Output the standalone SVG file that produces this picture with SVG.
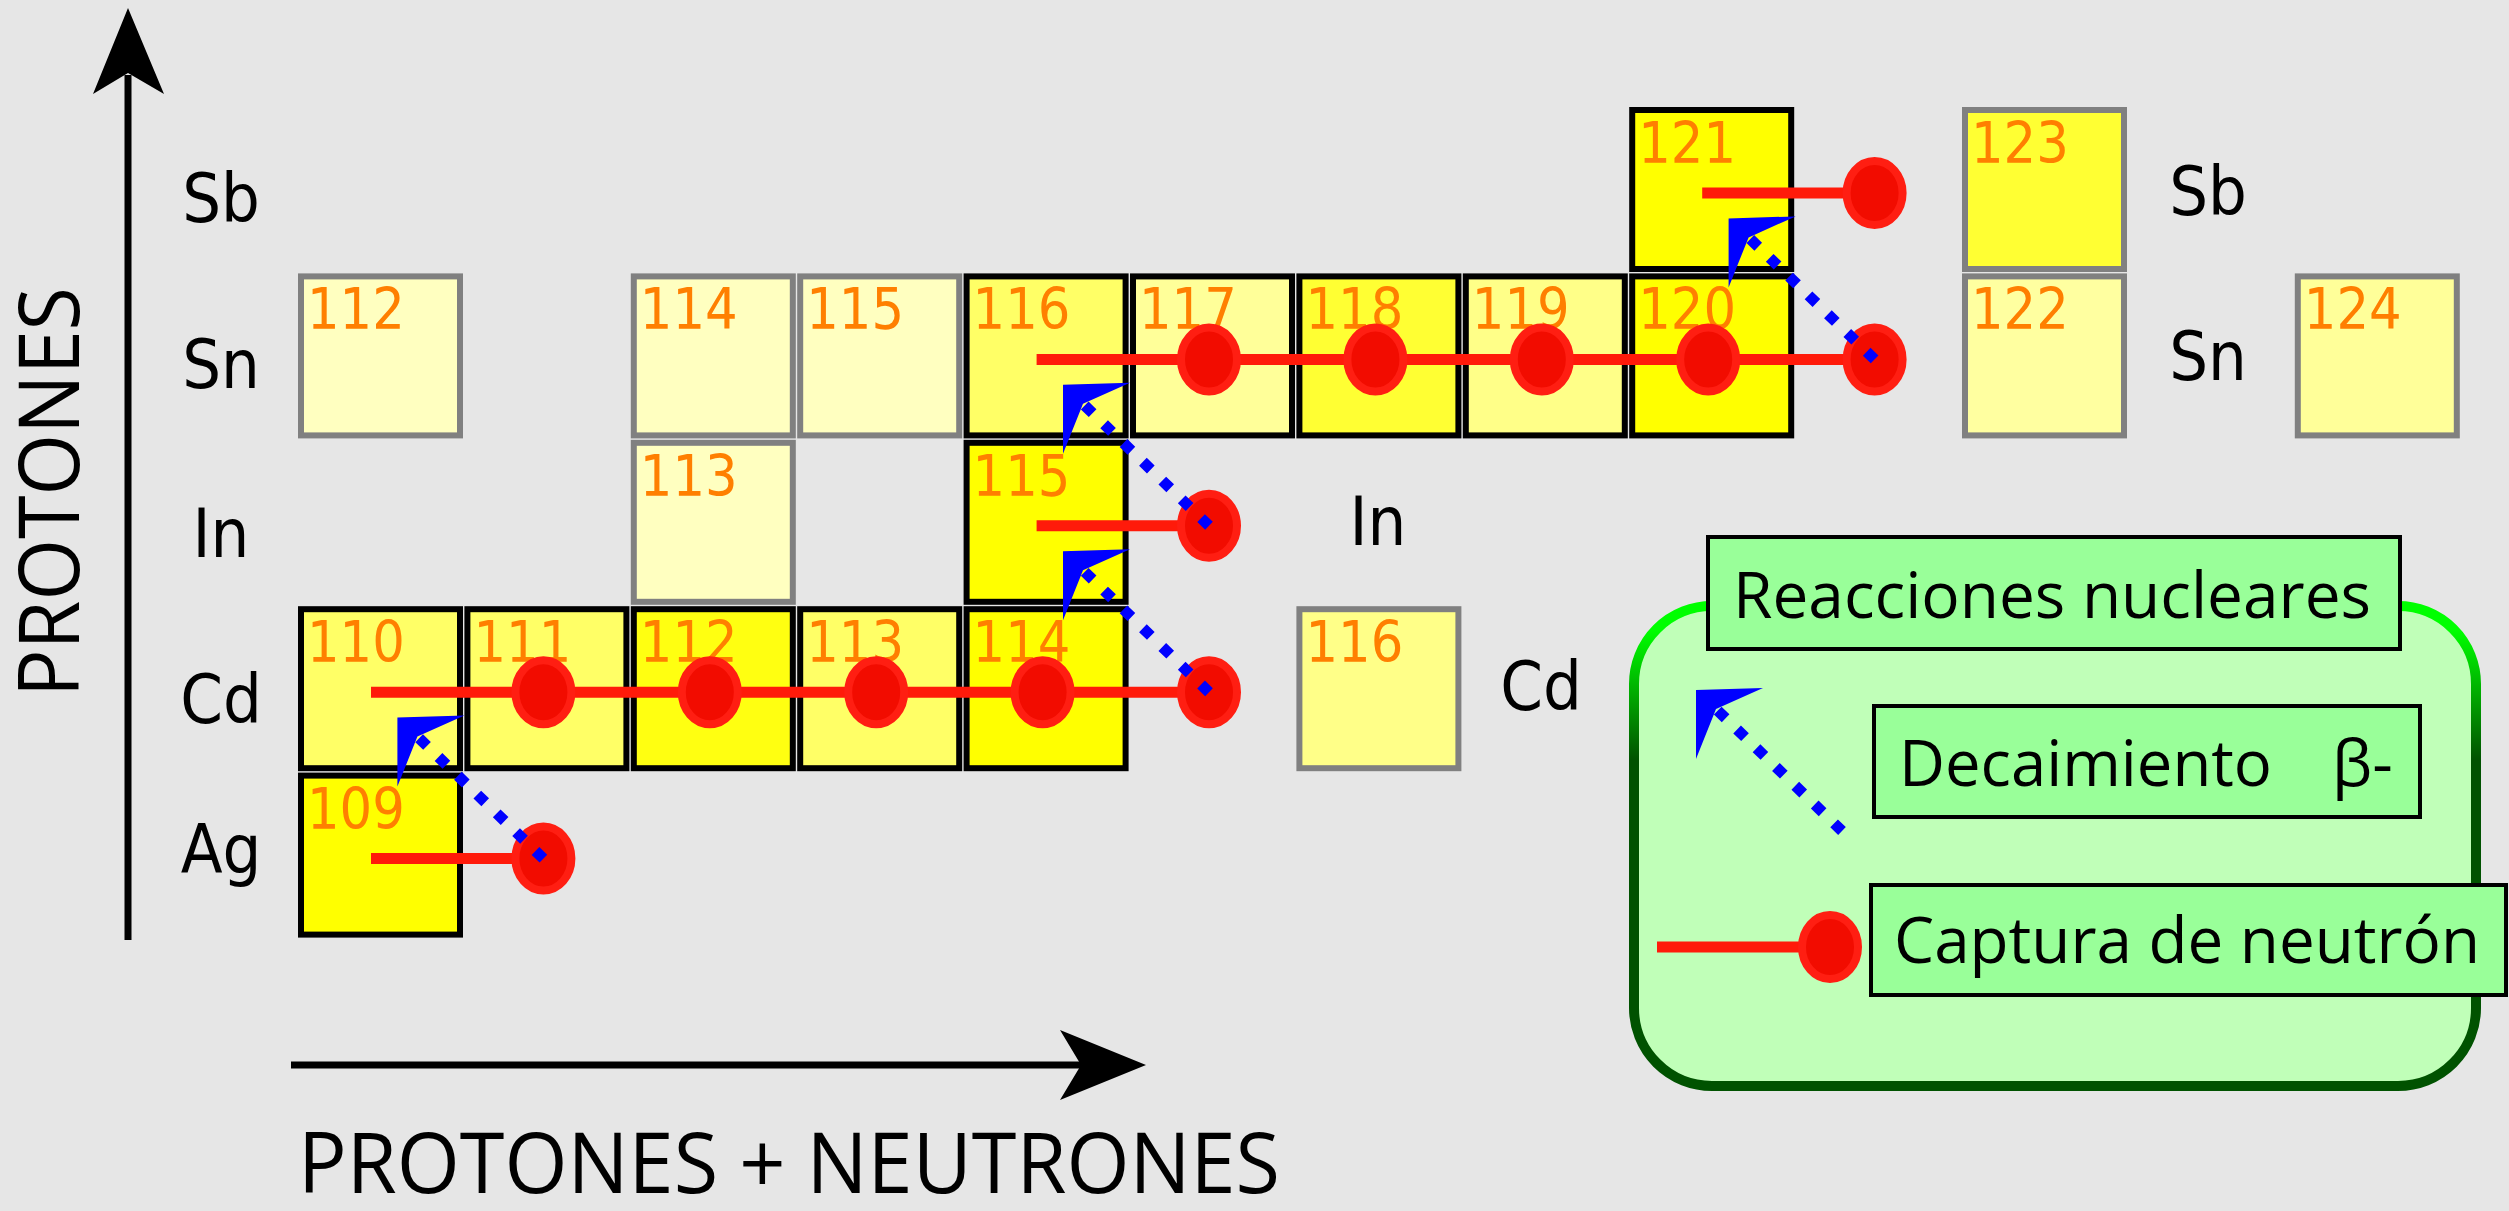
<svg xmlns="http://www.w3.org/2000/svg" xmlns:xlink="http://www.w3.org/1999/xlink" width="2509" height="1211" viewBox="0 0 2509 1211">
<style>
.bx{stroke-width:6}
.k{stroke:#000}
.g{stroke:#808080}
.num{font-family:"DejaVu Sans Condensed","DejaVu Sans",sans-serif;font-stretch:condensed;font-size:57px;fill:#ff7f00}
.el{font-family:"DejaVu Sans Condensed","DejaVu Sans",sans-serif;font-stretch:condensed;font-size:68px;fill:#000;text-anchor:middle}
.cap{stroke:#ff1a0a;stroke-width:11;fill:none}
.dot{fill:#f20c00;stroke:#ff1e12;stroke-width:8}
.beta{stroke:#0000ff;stroke-width:11;stroke-dasharray:11 16;fill:none}
.bh{fill:#0000ff}
.ax{stroke:#000;stroke-width:7;fill:none}
.lg{font-family:"Open Sans",sans-serif;font-size:64px;fill:#000}
.axt{font-family:"Open Sans",sans-serif;font-size:84px;fill:#000}
.lbox{fill:#99ff99;stroke:#000;stroke-width:4}
</style>
<defs>
<path id="bhead" d="M0,0 L67,-2 L20,19 L0,69 Z"/>
<linearGradient id="lgs" gradientUnits="userSpaceOnUse" x1="0" y1="630" x2="0" y2="760">
<stop offset="0" stop-color="#00ff00"/>
<stop offset="1" stop-color="#005200"/>
</linearGradient>
</defs>
<rect x="0" y="0" width="2509" height="1211" fill="#e6e6e6"/>

<g id="axes">
<line class="ax" x1="128" y1="940" x2="128" y2="75"/>
<polygon points="128,8 164,94 128,73 93,94" fill="#000"/>
<line class="ax" x1="291" y1="1065" x2="1081" y2="1065"/>
<polygon points="1146,1065 1060,1100 1081,1065 1060,1030" fill="#000"/>
<text class="axt" transform="translate(79,492) rotate(-90)" text-anchor="middle" textLength="410" lengthAdjust="spacingAndGlyphs">PROTONES</text>
<text class="axt" x="298" y="1193" textLength="982" lengthAdjust="spacingAndGlyphs">PROTONES + NEUTRONES</text>
</g>

<g id="element-labels">
<text class="el" x="221" y="222">Sb</text>
<text class="el" x="221" y="388">Sn</text>
<text class="el" x="221" y="557">In</text>
<text class="el" x="221" y="723">Cd</text>
<text class="el" x="221" y="873">Ag</text>
<text class="el" x="2208" y="215">Sb</text>
<text class="el" x="2208" y="380">Sn</text>
<text class="el" x="1378" y="545">In</text>
<text class="el" x="1541" y="710">Cd</text>
</g>

<g id="n-Sb121"><rect class="bx k" x="1632.2" y="110" width="159" height="159" fill="#ffff00"/><text class="num" x="1638.2" y="163">121</text></g>
<g id="n-Sb123"><rect class="bx g" x="1965" y="110" width="159" height="159" fill="#ffff33"/><text class="num" x="1971" y="163">123</text></g>

<g id="n-Sn112"><rect class="bx g" x="301" y="276.4" width="159" height="159" fill="#ffffc0"/><text class="num" x="307" y="329.4">112</text></g>
<g id="n-Sn114"><rect class="bx g" x="633.8" y="276.4" width="159" height="159" fill="#ffffc0"/><text class="num" x="639.8" y="329.4">114</text></g>
<g id="n-Sn115"><rect class="bx g" x="800.2" y="276.4" width="159" height="159" fill="#ffffc0"/><text class="num" x="806.2" y="329.4">115</text></g>
<g id="n-Sn116"><rect class="bx k" x="966.6" y="276.4" width="159" height="159" fill="#ffff66"/><text class="num" x="972.6" y="329.4">116</text></g>
<g id="n-Sn117"><rect class="bx k" x="1133" y="276.4" width="159" height="159" fill="#ffff99"/><text class="num" x="1139" y="329.4">117</text></g>
<g id="n-Sn118"><rect class="bx k" x="1299.4" y="276.4" width="159" height="159" fill="#ffff33"/><text class="num" x="1305.4" y="329.4">118</text></g>
<g id="n-Sn119"><rect class="bx k" x="1465.8" y="276.4" width="159" height="159" fill="#ffff88"/><text class="num" x="1471.8" y="329.4">119</text></g>
<g id="n-Sn120"><rect class="bx k" x="1632.2" y="276.4" width="159" height="159" fill="#ffff00"/><text class="num" x="1638.2" y="329.4">120</text></g>
<g id="n-Sn122"><rect class="bx g" x="1965" y="276.4" width="159" height="159" fill="#ffffa0"/><text class="num" x="1971" y="329.4">122</text></g>
<g id="n-Sn124"><rect class="bx g" x="2297.8" y="276.4" width="159" height="159" fill="#ffff99"/><text class="num" x="2303.8" y="329.4">124</text></g>

<g id="n-In113"><rect class="bx g" x="633.8" y="442.8" width="159" height="159" fill="#ffffc0"/><text class="num" x="639.8" y="495.8">113</text></g>
<g id="n-In115"><rect class="bx k" x="966.6" y="442.8" width="159" height="159" fill="#ffff00"/><text class="num" x="972.6" y="495.8">115</text></g>

<g id="n-Cd110"><rect class="bx k" x="301" y="609.2" width="159" height="159" fill="#ffff66"/><text class="num" x="307" y="662.2">110</text></g>
<g id="n-Cd111"><rect class="bx k" x="467.4" y="609.2" width="159" height="159" fill="#ffff66"/><text class="num" x="473.4" y="662.2">111</text></g>
<g id="n-Cd112"><rect class="bx k" x="633.8" y="609.2" width="159" height="159" fill="#ffff11"/><text class="num" x="639.8" y="662.2">112</text></g>
<g id="n-Cd113"><rect class="bx k" x="800.2" y="609.2" width="159" height="159" fill="#ffff66"/><text class="num" x="806.2" y="662.2">113</text></g>
<g id="n-Cd114"><rect class="bx k" x="966.6" y="609.2" width="159" height="159" fill="#ffff00"/><text class="num" x="972.6" y="662.2">114</text></g>
<g id="n-Cd116"><rect class="bx g" x="1299.4" y="609.2" width="159" height="159" fill="#ffff88"/><text class="num" x="1305.4" y="662.2">116</text></g>

<g id="n-Ag109"><rect class="bx k" x="301" y="775.6" width="159" height="159" fill="#ffff00"/><text class="num" x="307" y="828.6">109</text></g>

<g id="connectors">
<line class="cap" x1="371" y1="858.6" x2="543.4" y2="858.6"/>
<line class="cap" x1="371" y1="692.2" x2="1209" y2="692.2"/>
<line class="cap" x1="1036.6" y1="525.8" x2="1209" y2="525.8"/>
<line class="cap" x1="1036.6" y1="359.4" x2="1874.6" y2="359.4"/>
<line class="cap" x1="1702.2" y1="193" x2="1874.6" y2="193"/>
<ellipse class="dot" cx="543.4" cy="858.6" rx="28" ry="32"/>
<ellipse class="dot" cx="543.4" cy="692.2" rx="28" ry="32"/>
<ellipse class="dot" cx="709.8" cy="692.2" rx="28" ry="32"/>
<ellipse class="dot" cx="876.2" cy="692.2" rx="28" ry="32"/>
<ellipse class="dot" cx="1042.6" cy="692.2" rx="28" ry="32"/>
<ellipse class="dot" cx="1209" cy="692.2" rx="28" ry="32"/>
<ellipse class="dot" cx="1209" cy="525.8" rx="28" ry="32"/>
<ellipse class="dot" cx="1209" cy="359.4" rx="28" ry="32"/>
<ellipse class="dot" cx="1375.4" cy="359.4" rx="28" ry="32"/>
<ellipse class="dot" cx="1541.8" cy="359.4" rx="28" ry="32"/>
<ellipse class="dot" cx="1708.2" cy="359.4" rx="28" ry="32"/>
<ellipse class="dot" cx="1874.6" cy="359.4" rx="28" ry="32"/>
<ellipse class="dot" cx="1874.6" cy="193" rx="28" ry="32"/>
<line class="beta" x1="543.4" y1="858.6" x2="417.4" y2="736.6"/>
<use href="#bhead" xlink:href="#bhead" class="bh" x="397.4" y="717.6"/>
<line class="beta" x1="1209" y1="692.2" x2="1083" y2="570.2"/>
<use href="#bhead" xlink:href="#bhead" class="bh" x="1063" y="551.2"/>
<line class="beta" x1="1209" y1="525.8" x2="1083" y2="403.8"/>
<use href="#bhead" xlink:href="#bhead" class="bh" x="1063" y="384.8"/>
<line class="beta" x1="1874.6" y1="359.4" x2="1748.6" y2="237.4"/>
<use href="#bhead" xlink:href="#bhead" class="bh" x="1728.6" y="218.4"/>
</g>

<g id="legend">
<rect x="1634" y="606" width="842" height="480" rx="78" ry="78" fill="#c0ffb8" stroke="url(#lgs)" stroke-width="10"/>
<g id="legend-title">
<rect class="lbox" x="1708" y="537" width="692" height="112"/>
<text class="lg" x="1733" y="618" textLength="638" lengthAdjust="spacingAndGlyphs">Reacciones nucleares</text>
</g>
<g id="legend-beta">
<line class="beta" x1="1842" y1="831" x2="1716" y2="709"/>
<use href="#bhead" xlink:href="#bhead" class="bh" x="1696" y="690"/>
<rect class="lbox" x="1874" y="706" width="546" height="111"/>
<text class="lg" x="1899" y="786"><tspan textLength="373" lengthAdjust="spacingAndGlyphs">Decaimiento</tspan><tspan x="2332">β-</tspan></text>
</g>
<g id="legend-capture">
<line class="cap" x1="1657" y1="947" x2="1830" y2="947"/>
<ellipse class="dot" cx="1830" cy="947" rx="28" ry="32"/>
<rect class="lbox" x="1871" y="885" width="635" height="110"/>
<text class="lg" x="1894" y="963" textLength="586" lengthAdjust="spacingAndGlyphs">Captura de neutrón</text>
</g>
</g>
</svg>
